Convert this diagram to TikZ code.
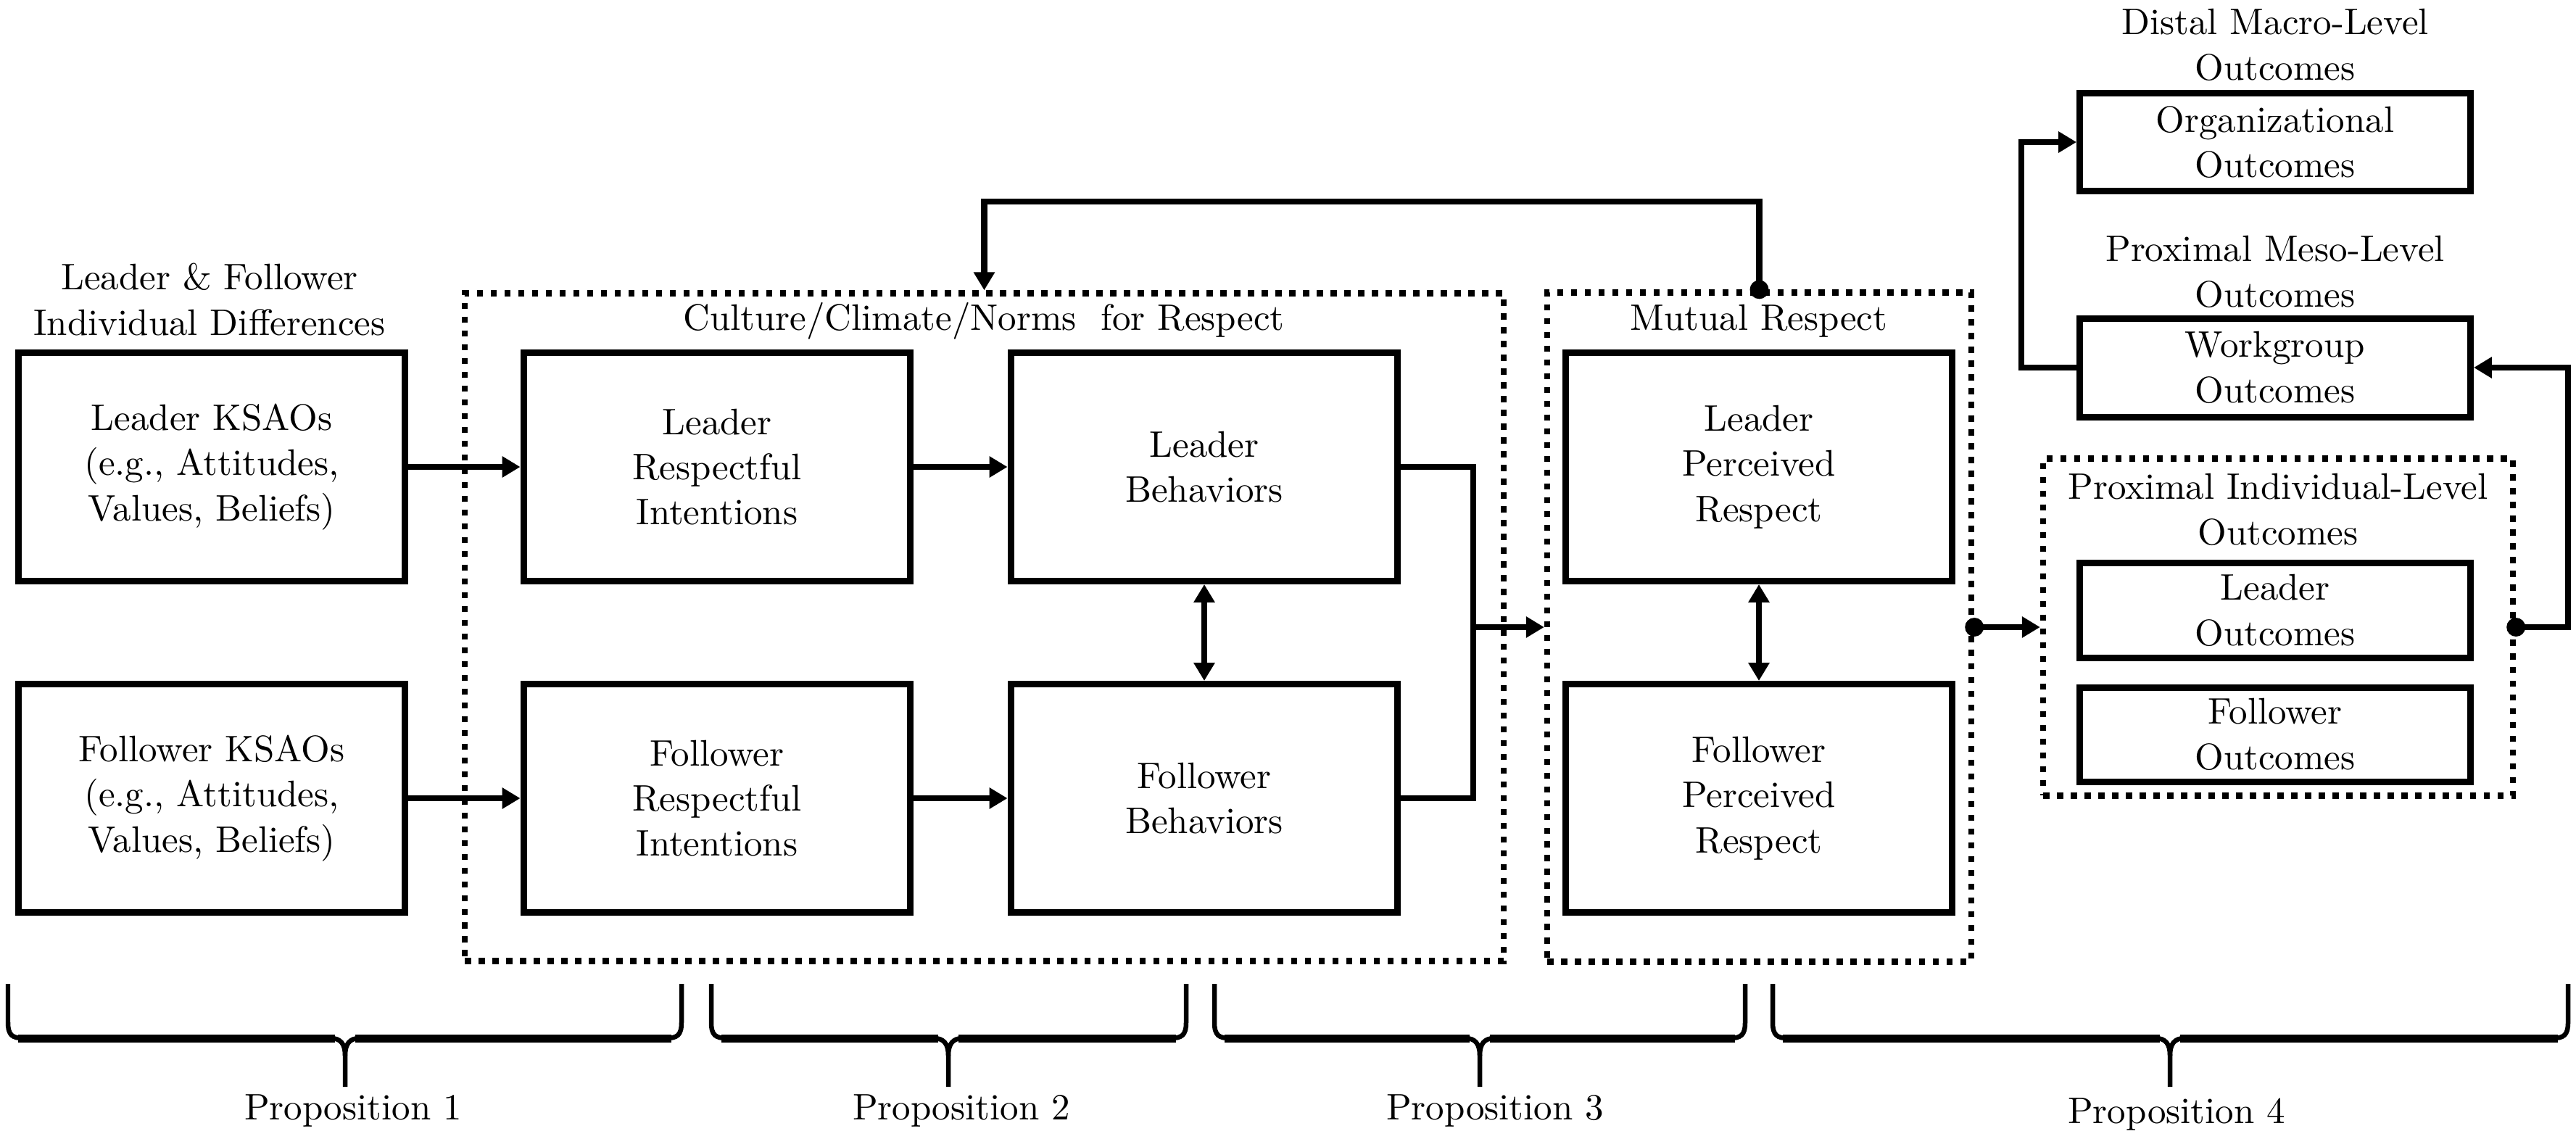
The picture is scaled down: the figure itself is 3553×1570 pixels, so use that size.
\documentclass[tikz,border=0pt]{standalone}
\usepackage{fontspec}
\setmainfont{lmroman10-regular.otf}
\usetikzlibrary{arrows.meta}
\newcommand\propbrace[3]{%
  \draw[brc] (#1,1357) -- (#1,1410) .. controls (#1,1428) and ({#1+6},1432) .. ({#1+22},1432) -- ({#3-20},1432) .. controls ({#3-6},1432) and (#3,1440) .. (#3,1456) -- (#3,1499);
  \draw[brc] (#2,1357) -- (#2,1410) .. controls (#2,1428) and ({#2-6},1432) .. ({#2-22},1432) -- ({#3+20},1432) .. controls ({#3+6},1432) and (#3,1440) .. (#3,1456);
  \draw[band] ({#1+14},1432) -- ({#3-14},1432);
  \draw[band] ({#3+14},1432) -- ({#2-14},1432);
}
\begin{document}
\begin{tikzpicture}[x=0.02cm,y=-0.02cm,
  every node/.style={font=\fontsize{29}{35.5}\selectfont, align=center, inner sep=0pt},
  bigbox/.style={draw, line width=0.18cm, minimum width=10.68cm, minimum height=6.30cm},
  smallbox/.style={draw, line width=0.18cm, minimum width=10.78cm, minimum height=2.72cm},
  dotbox/.style={draw, line width=0.17cm, dash pattern=on 0.17cm off 0.21cm},
  conn/.style={line width=0.17cm},
  arr/.style={conn, -{Triangle[length=0.5cm,width=0.56cm]}},
  darr/.style={conn, {Triangle[length=0.5cm,width=0.56cm]}-{Triangle[length=0.5cm,width=0.56cm]}},
  brc/.style={line width=0.13cm},
  band/.style={line width=0.22cm},
]
\useasboundingbox (0,0) rectangle (3553,1570);

% dotted group boxes
\node[dotbox, minimum width=28.66cm, minimum height=18.42cm] (cul) at (1357.5,865) {};
\node[dotbox, minimum width=11.70cm, minimum height=18.46cm] (mr) at (2426.5,865) {};
\node[dotbox, minimum width=12.96cm, minimum height=9.30cm] (pi) at (3142,865) {};

% headings
\node (hl) at (289,413) {Leader \& Follower\\Individual Differences};
\node (hc) at (1357,443) {Culture/Climate/Norms\ \ for Respect};
\node (hm) at (2426,443) {Mutual Respect};
\node (hd) at (3138,62) {Distal Macro-Level\\Outcomes};
\node (hp) at (3138,375) {Proximal Meso-Level\\Outcomes};
\node (hi) at (3142,703) {Proximal Individual-Level\\Outcomes};

% boxes
\node[bigbox] (lk) at (292,644) {Leader KSAOs\\(e.g., Attitudes,\\Values, Beliefs)};
\node[bigbox] (fk) at (292,1101) {Follower KSAOs\\(e.g., Attitudes,\\Values, Beliefs)};
\node[bigbox] (lri) at (989,644) {Leader\\Respectful\\Intentions};
\node[bigbox] (fri) at (989,1101) {Follower\\Respectful\\Intentions};
\node[bigbox] (lb) at (1661,644) {Leader\\Behaviors};
\node[bigbox] (fb) at (1661,1101) {Follower\\Behaviors};
\node[bigbox] (lpr) at (2426,644) {Leader\\Perceived\\Respect};
\node[bigbox] (fpr) at (2426,1101) {Follower\\Perceived\\Respect};

\node[smallbox] (org) at (3138,196) {Organizational\\Outcomes};
\node[smallbox] (wg) at (3138,507) {Workgroup\\Outcomes};
\node[smallbox, minimum height=2.62cm] (lo) at (3138,842) {Leader\\Outcomes};
\node[smallbox, minimum height=2.60cm] (fo) at (3138,1013) {Follower\\Outcomes};

% connectors
\draw[arr] (lk) -- (lri);
\draw[arr] (fk) -- (fri);
\draw[arr] (lri) -- (lb);
\draw[arr] (fri) -- (fb);
\draw[darr] (lb) -- (fb);
\draw[darr] (lpr) -- (fpr);

\coordinate (jn) at (2032,865);
\draw[conn] (lb.east) -| (jn) |- (fb.east);
\draw[arr] (jn) -- (mr.west);

\coordinate (fbk) at (1357.5,278);
\draw[arr] (mr.north) |- (fbk) -- (cul.north);
\fill (mr.north) circle[radius=0.26cm];

\draw[arr] (mr.east) -- (pi.west);
\fill (mr.east) circle[radius=0.26cm];

\coordinate (rr) at (3542,507);
\draw[arr] (pi.east) -| (rr) -- (wg.east);
\fill (pi.east) circle[radius=0.26cm];

\coordinate (ll) at (2788,196);
\draw[arr] (wg.west) -| (ll) -- (org.west);

% braces and labels
\propbrace{11}{940}{476}
\propbrace{981}{1636}{1308}
\propbrace{1675}{2407}{2041}
\propbrace{2445}{3542}{2993}

\node (p1) at (487,1532) {Proposition 1};
\node (p2) at (1326,1532) {Proposition 2};
\node (p3) at (2062,1532) {Proposition 3};
\node (p4) at (3002,1537) {Proposition 4};
\end{tikzpicture}
\end{document}
